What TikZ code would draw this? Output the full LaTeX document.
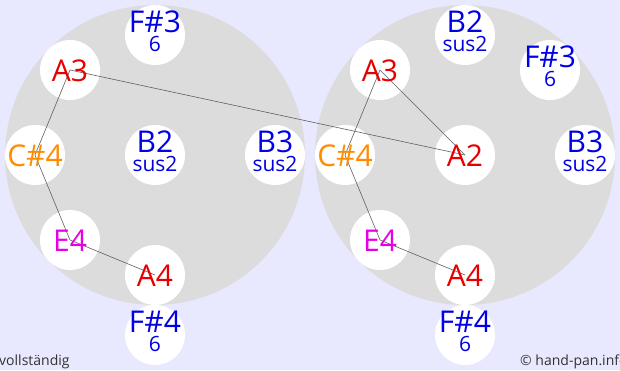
\documentclass[tikz,border=0pt]{standalone}
\usepackage{fontspec}
\setmainfont{Open Sans}
\usepackage{tikz}
\usetikzlibrary{positioning,calc}
\definecolor{bgpan}{RGB}{232,232,255}
\definecolor{shell}{RGB}{220,220,220}
\definecolor{noteblue}{RGB}{0,0,230}
\definecolor{notered}{RGB}{230,0,0}
\definecolor{noteorange}{RGB}{255,140,0}
\definecolor{notemagenta}{RGB}{230,0,230}
\definecolor{path}{RGB}{96,96,96}
\definecolor{credit}{RGB}{51,51,51}

\begin{document}
\begin{tikzpicture}[
  x=1pt, y=-1pt,
  shellbody/.style={circle, fill=shell, minimum size=300pt, inner sep=0pt},
  hole/.style={circle, fill=white, minimum size=60pt, inner sep=0pt},
  big/.style={font=\fontsize{30}{30}\selectfont, text=#1, anchor=base, inner sep=0pt},
  small/.style={font=\fontsize{21}{21}\selectfont, text=#1, anchor=base, inner sep=0pt},
  route/.style={draw=path, line width=0.6pt},
]
\useasboundingbox[fill=bgpan] (0,0) rectangle (620,370);

% Shells
\node[shellbody] (lshell) at (155,155) {};
\node[shellbody] (rshell) at (465,155) {};

% Left pan
\node[hole] (lF3) at (155,35) {};
\node[hole] (lA3) at (70,70) {};
\node[hole] (lC4) at (35,155) {};
\node[hole] (lB2) at (155,155) {};
\node[hole] (lB3) at (275,155) {};
\node[hole] (lE4) at (70,240) {};
\node[hole] (lA4) at (155,275) {};
\node[hole] (lF4) at (155,335) {};

% Right pan
\node[hole] (rB2) at (465,35) {};
\node[hole] (rF3) at (550,70) {};
\node[hole] (rA3) at (380,70) {};
\node[hole] (rC4) at (345,155) {};
\node[hole] (rA2) at (465,155) {};
\node[hole] (rB3) at (585,155) {};
\node[hole] (rE4) at (380,240) {};
\node[hole] (rA4) at (465,275) {};
\node[hole] (rF4) at (465,335) {};

% Routes
\draw[route] (lA3.center) -- (lC4.center) -- (lE4.center) -- (lA4.center);
\draw[route] (lA3.center) -- (rA2.center);
\draw[route] (rA3.center) -- (rC4.center) -- (rE4.center) -- (rA4.center);
\draw[route] (rA3.center) -- (rA2.center);

% Single labels
\foreach \h/\t/\c in {lA3/A3/notered, lC4/C\#4/noteorange, lE4/E4/notemagenta,
    lA4/A4/notered, rA3/A3/notered, rC4/C\#4/noteorange, rA2/A2/notered,
    rE4/E4/notemagenta, rA4/A4/notered} {
  \node[big=\c] at ($(\h.center)+(0,11)$) {\t};
}

% Double labels
\foreach \h/\t/\s in {lF3/F\#3/6, lB2/B2/sus2, lB3/B3/sus2, lF4/F\#4/6,
    rB2/B2/sus2, rF3/F\#3/6, rB3/B3/sus2, rF4/F\#4/6} {
  \node[big=noteblue] at ($(\h.center)+(0,-3)$) {\t};
  \node[small=noteblue] at ($(\h.center)+(0,16.5)$) {\s};
}

% Footer
\node[font=\fontsize{14}{14}\selectfont, text=credit, anchor=base west, inner sep=0pt] (scope) at (-1,365) {vollständig};
\node[font=\fontsize{14}{14}\selectfont, text=credit, anchor=base west, inner sep=0pt] (site) at (520,365) {© hand-pan.info};
\end{tikzpicture}
\end{document}
